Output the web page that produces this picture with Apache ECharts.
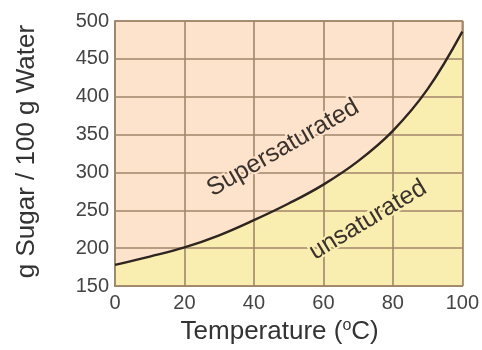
<!DOCTYPE html>
<html>
<head>
<meta charset="utf-8">
<script src="https://cdn.jsdelivr.net/npm/echarts@6/dist/echarts.min.js"></script>
<style>
html,body{margin:0;padding:0;background:#ffffff;}
#chart{width:482px;height:350px;}
</style>
</head>
<body>
<div id="chart"></div>
<script>
// Data
var temperatures = [0, 10, 20, 30, 40, 50, 60, 70, 80, 90, 100];
var solubility = [178, 189, 201, 217, 237, 259, 284, 315, 355, 410, 486];
var xTicks = [0, 20, 40, 60, 80, 100];
var yTicks = [150, 200, 250, 300, 350, 400, 450, 500];
var xTitle = 'Temperature (';
var yTitle = 'g Sugar / 100 g Water';
var regionLabels = ['Supersaturated', 'unsaturated'];

var points = temperatures.map(function (t, i) { return [t, solubility[i]]; });
var FONT = '"Liberation Sans", Arial, sans-serif';
var gridColor = '#a0866a';

var chart = echarts.init(document.getElementById('chart'), null, {renderer: 'canvas'});
chart.setOption({
  animation: false,
  backgroundColor: '#ffffff',
  grid: {
    left: 115, right: 19, top: 21, bottom: 63,
    show: true,
    backgroundColor: '#fde3cb',
    borderColor: gridColor,
    borderWidth: 1.6
  },
  xAxis: {
    type: 'value',
    min: xTicks[0], max: xTicks[xTicks.length - 1], interval: 20,
    z: 3,
    axisLine: {show: true, lineStyle: {color: gridColor, width: 1.6}},
    axisTick: {show: false},
    splitLine: {show: true, lineStyle: {color: gridColor, width: 1.6}},
    axisLabel: {color: '#444', fontSize: 20, fontFamily: FONT, margin: 7},
    name: xTitle + '{sup|o}C)',
    nameLocation: 'middle',
    nameGap: 30,
    nameTextStyle: {
      color: '#333', fontSize: 26, fontFamily: FONT, padding: [0, 18, 0, 0],
      rich: {sup: {fontSize: 16, fontFamily: FONT, color: '#333', padding: [0, 0, 12, 0]}}
    }
  },
  yAxis: {
    type: 'value',
    min: yTicks[0], max: yTicks[yTicks.length - 1], interval: 50,
    z: 3,
    axisLine: {show: true, lineStyle: {color: gridColor, width: 1.6}},
    axisTick: {show: false},
    splitLine: {show: true, lineStyle: {color: gridColor, width: 1.6}},
    axisLabel: {color: '#444', fontSize: 20, fontFamily: FONT, margin: 6},
    name: yTitle,
    nameLocation: 'middle',
    nameGap: 75,
    nameTextStyle: {color: '#333', fontSize: 26, fontFamily: FONT, padding: [0, 0, 0, 4]}
  },
  series: [
    {
      type: 'line', data: points, smooth: 0.4, symbol: 'none', z: 1,
      lineStyle: {width: 0, opacity: 0},
      areaStyle: {color: '#f9eeb0', opacity: 1, origin: 'start'}
    },
    {
      type: 'line', data: points, smooth: 0.4, symbol: 'none', z: 10,
      lineStyle: {width: 2.4, color: '#2e2520'}
    }
  ],
  graphic: [
    {
      type: 'text', x: 283, y: 148, rotation: 30 * Math.PI / 180, z: 20,
      style: {text: regionLabels[0], fill: '#3a322d', font: '25px ' + FONT,
        align: 'center', verticalAlign: 'middle', stroke: '#fde3cb', lineWidth: 4}
    },
    {
      type: 'text', x: 368, y: 220, rotation: 31 * Math.PI / 180, z: 20,
      style: {text: regionLabels[1], fill: '#3a322d', font: '25px ' + FONT,
        align: 'center', verticalAlign: 'middle', stroke: '#f9eeb0', lineWidth: 4}
    }
  ]
});
</script>
</body>
</html>
